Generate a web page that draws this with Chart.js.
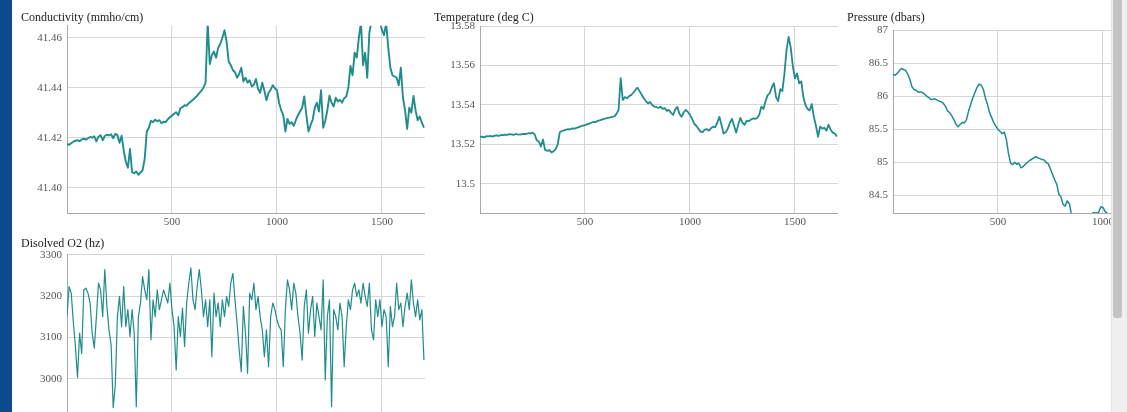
<!DOCTYPE html>
<html>
<head>
<meta charset="utf-8">
<script src="https://cdn.jsdelivr.net/npm/chart.js@4.4.1/dist/chart.umd.min.js"></script>
<style>
  html, body { margin: 0; padding: 0; overflow: hidden; background: #fff; }
  #pagina { position: absolute; left: 0; top: 0; width: 1111px; height: 412px; overflow: hidden; background: #fff; }
  #franja { position: absolute; left: 0; top: 0; width: 12px; height: 412px; background: #0b4a8c; }
  #pagina canvas { position: absolute; }
  #scroll { position: absolute; left: 1111px; top: 0; width: 16px; height: 412px; background: #f0f0f0; border-left: 1px solid #e2e2e2; box-sizing: border-box; }
  #thumb { position: absolute; left: 1px; top: 0; width: 9px; height: 318px; background: #c4c4c4; border-radius: 0 0 3px 3px; }
</style>
</head>
<body>
<div id="pagina">
  <div id="franja"></div>
  <canvas id="conductividad" width="404" height="230" style="left:21px;top:0px"></canvas>
  <canvas id="temperatura" width="404" height="230" style="left:434px;top:0px"></canvas>
  <canvas id="presion" width="404" height="230" style="left:847px;top:0px"></canvas>
  <canvas id="oxigeno" width="404" height="230" style="left:21px;top:226px"></canvas>
</div>
<div id="scroll"><div id="thumb"></div></div>

<script type="text/javascript">

    // numero de muestra (eje x)
    var muestras = [0,10,20,30,40,50,60,70,80,90,100,110,120,130,140,150,160,170,180,190,
        200,210,220,230,240,250,260,270,280,290,300,310,320,330,340,350,360,370,380,390,
        400,410,420,430,440,450,460,470,480,490,500,510,520,530,540,550,560,570,580,590,
        600,610,620,630,640,650,660,670,680,690,700,710,720,730,740,750,760,770,780,790,
        800,810,820,830,840,850,860,870,880,890,900,910,920,930,940,950,960,970,980,990,
        1000,1010,1020,1030,1040,1050,1060,1070,1080,1090,1100,1110,1120,1130,1140,1150,1160,1170,1180,1190,
        1200,1210,1220,1230,1240,1250,1260,1270,1280,1290,1300,1310,1320,1330,1340,1350,1360,1370,1380,1390,
        1400,1410,1420,1430,1440,1450,1460,1470,1480,1490,1500,1510,1520,1530,1540,1550,1560,1570,1580,1590,
        1600,1610,1620,1630,1640,1650,1660,1670,1680,1690,1700]

    var conductividad = [41.4175,41.4172,41.4178,41.4184,41.4188,41.4190,41.4186,41.4193,41.4196,41.4192,
        41.4198,41.4203,41.4200,41.4206,41.4185,41.4204,41.4210,41.4190,41.4207,41.4212,
        41.4209,41.4214,41.4198,41.4215,41.4211,41.4180,41.4208,41.4150,41.4105,41.4080,
        41.4155,41.4062,41.4058,41.4065,41.4052,41.4061,41.4070,41.4115,41.4225,41.4240,
        41.4268,41.4262,41.4272,41.4266,41.4270,41.4258,41.4264,41.4262,41.4274,41.4282,
        41.4288,41.4296,41.4302,41.4290,41.4318,41.4322,41.4330,41.4328,41.4338,41.4345,
        41.4352,41.4360,41.4368,41.4378,41.4388,41.4400,41.4420,41.4660,41.4495,41.4530,
        41.4545,41.4520,41.4560,41.4575,41.4600,41.4630,41.4585,41.4505,41.4490,41.4470,
        41.4462,41.4440,41.4455,41.4480,41.4425,41.4440,41.4420,41.4430,41.4405,41.4412,
        41.4435,41.4395,41.4380,41.4420,41.4388,41.4350,41.4380,41.4392,41.4410,41.4398,
        41.4390,41.4340,41.4310,41.4290,41.4225,41.4275,41.4255,41.4262,41.4248,41.4270,
        41.4290,41.4305,41.4320,41.4365,41.4290,41.4225,41.4250,41.4272,41.4320,41.4340,
        41.4305,41.4390,41.4240,41.4268,41.4310,41.4368,41.4340,41.4325,41.4360,41.4345,
        41.4352,41.4340,41.4358,41.4365,41.4400,41.4487,41.4450,41.4540,41.4520,41.4600,
        41.4660,41.4490,41.4540,41.4440,41.4620,41.4665,41.4680,41.4690,41.4685,41.4670,
        41.4630,41.4610,41.4660,41.4560,41.4480,41.4450,41.4445,41.4440,41.4410,41.4480,
        41.4360,41.4310,41.4235,41.4320,41.4300,41.4367,41.4310,41.4270,41.4285,41.4260,
        41.4240]

    var temperatura = [13.5238,13.5240,13.5236,13.5242,13.5241,13.5243,13.5240,13.5245,13.5246,13.5243,
        13.5248,13.5247,13.5250,13.5249,13.5252,13.5251,13.5249,13.5253,13.5251,13.5250,
        13.5252,13.5254,13.5253,13.5257,13.5255,13.5260,13.5252,13.5222,13.5215,13.5190,
        13.5225,13.5172,13.5168,13.5172,13.5160,13.5165,13.5175,13.5200,13.5262,13.5268,
        13.5272,13.5275,13.5278,13.5276,13.5282,13.5280,13.5284,13.5288,13.5292,13.5295,
        13.5298,13.5302,13.5306,13.5310,13.5314,13.5313,13.5320,13.5322,13.5326,13.5330,
        13.5332,13.5335,13.5337,13.5340,13.5342,13.5355,13.5375,13.5536,13.5425,13.5440,
        13.5434,13.5445,13.5450,13.5462,13.5476,13.5488,13.5470,13.5452,13.5434,13.5420,
        13.5408,13.5415,13.5400,13.5392,13.5390,13.5385,13.5392,13.5380,13.5384,13.5370,
        13.5375,13.5360,13.5350,13.5378,13.5390,13.5355,13.5340,13.5362,13.5375,13.5365,
        13.5350,13.5330,13.5305,13.5295,13.5280,13.5265,13.5262,13.5275,13.5278,13.5270,
        13.5282,13.5290,13.5288,13.5310,13.5340,13.5300,13.5255,13.5262,13.5280,13.5310,
        13.5330,13.5295,13.5260,13.5300,13.5335,13.5310,13.5300,13.5320,13.5318,13.5326,
        13.5332,13.5330,13.5334,13.5350,13.5392,13.5380,13.5420,13.5450,13.5460,13.5490,
        13.5510,13.5440,13.5420,13.5480,13.5470,13.5560,13.5680,13.5745,13.5690,13.5595,
        13.5535,13.5560,13.5510,13.5520,13.5440,13.5400,13.5380,13.5372,13.5405,13.5340,
        13.5295,13.5239,13.5290,13.5280,13.5285,13.5270,13.5300,13.5275,13.5260,13.5255,
        13.5240]

    // la presion sale del area visible por debajo entre 860 y 940
    var presion = [86.338,86.323,86.350,86.390,86.424,86.410,86.395,86.340,86.262,86.150,
        86.107,86.095,86.066,86.070,86.060,86.040,86.005,85.985,85.954,85.960,
        85.965,85.945,85.930,85.920,85.895,85.850,85.780,85.755,85.706,85.650,
        85.580,85.543,85.575,85.611,85.600,85.650,85.780,85.880,85.980,86.060,
        86.136,86.186,86.175,86.110,85.980,85.880,85.756,85.680,85.604,85.550,
        85.503,85.470,85.437,85.462,85.350,85.136,84.990,84.970,85.003,84.975,
        84.990,84.920,84.940,84.975,85.000,85.030,85.050,85.070,85.088,85.070,
        85.060,85.045,85.040,85.000,84.980,84.900,84.820,84.740,84.670,84.520,
        84.480,84.365,84.340,84.420,84.380,84.210,null,null,null,null,
        null,null,null,null,null,84.238,84.240,84.236,84.250,84.330,
        84.320,84.260,84.230,84.200]

    var oxigeno = [3150,3223,3207,3138,3078,3003,3110,3061,3215,3219,
        3207,3183,3110,3074,3150,3231,3215,3150,3264,3175,
        3118,3082,2930,2985,3150,3199,3126,3223,3126,3167,
        3102,3167,3110,2932,3150,3183,3247,3215,3191,3264,
        3094,3191,3150,3215,3167,3191,3215,3199,3183,3231,
        3167,3126,3021,3150,3102,3171,3078,3183,3231,3268,
        3191,3167,3223,3264,3215,3150,3191,3126,3191,3053,
        3207,3150,3183,3126,3191,3150,3199,3175,3231,3255,
        3191,3134,3070,3017,3175,3110,3013,3207,3191,3231,
        3167,3199,3150,3118,3053,3118,3029,3150,3183,3167,
        3142,3126,3118,3029,3167,3239,3215,3167,3231,3207,
        3150,3110,3045,3175,3215,3110,3167,3199,3102,3183,
        3150,3118,3239,2997,3150,3191,2932,3167,3150,3118,
        3183,3150,3029,3126,3191,3167,3215,3231,3199,3215,
        3183,3231,3199,3175,3231,3118,3094,3191,3150,3191,
        3126,3167,3150,3029,3175,3126,3150,3231,3167,3183,
        3126,3175,3207,3167,3239,3183,3150,3191,3142,3167,
        3045]

    // marcas de los ejes
    var ticksX = [500, 1000, 1500]
    var etiquetasX = ['500', '1000', '1500']
    var ticksCond = [41.40, 41.42, 41.44, 41.46]
    var etiquetasCond = ['41.40', '41.42', '41.44', '41.46']
    var ticksTemp = [13.50, 13.52, 13.54, 13.56, 13.58]
    var etiquetasTemp = ['13.5', '13.52', '13.54', '13.56', '13.58']
    var ticksPres = [84.5, 85, 85.5, 86, 86.5, 87]
    var etiquetasPres = ['84.5', '85', '85.5', '86', '86.5', '87']
    var ticksOxi = [2900, 3000, 3100, 3200, 3300]
    var etiquetasOxi = ['2900', '3000', '3100', '3200', '3300']

    var fuente = "'Liberation Serif', 'Times New Roman', serif"
    var colorLinea = '#218c8c'
    Chart.defaults.font.family = fuente

    function crearGrafica(id, titulo, valores, yMin, yMax, yTicks, yEtiquetas, separacion, grosor) {
        var context = document.getElementById(id).getContext('2d')
        return new Chart(context, {
            type: 'line',
            data: {
                labels: muestras,
                datasets: [{
                    data: valores,
                    borderColor: colorLinea,
                    borderWidth: grosor,
                    borderJoinStyle: 'round',
                    pointRadius: 0,
                    tension: 0,
                    fill: false,
                    spanGaps: false,
                    clip: 0
                }]
            },
            options: {
                responsive: false,
                animation: false,
                devicePixelRatio: 1,
                layout: { padding: 0 },
                plugins: {
                    legend: { display: false },
                    tooltip: { enabled: false },
                    title: {
                        display: true,
                        text: titulo,
                        align: 'start',
                        color: '#222',
                        font: { size: 12, weight: 'normal' },
                        padding: { top: 11, bottom: separacion }
                    }
                },
                scales: {
                    x: {
                        type: 'linear',
                        min: 0,
                        max: 1705,
                        bounds: 'data',
                        afterBuildTicks: function (s) { s.ticks = ticksX.map(v => ({ value: v })) },
                        afterFit: function (s) { s.height = 17 },
                        ticks: {
                            callback: (v, i) => etiquetasX[i],
                            padding: 3,
                            color: '#555',
                            font: { size: 11 },
                            maxRotation: 0,
                            autoSkip: false
                        },
                        grid: { color: '#d6d6d6', drawTicks: false },
                        border: { color: '#a8a8a8' }
                    },
                    y: {
                        type: 'linear',
                        min: yMin,
                        max: yMax,
                        bounds: 'data',
                        afterBuildTicks: function (s) { s.ticks = yTicks.map(v => ({ value: v })) },
                        afterFit: function (s) { s.width = 46 },
                        ticks: {
                            callback: (v, i) => yEtiquetas[i],
                            padding: 5,
                            color: '#555',
                            font: { size: 11 },
                            autoSkip: false
                        },
                        grid: { color: '#d6d6d6', drawTicks: false },
                        border: { color: '#a8a8a8' }
                    }
                }
            }
        })
    }

    crearGrafica('conductividad', 'Conductivity (mmho/cm)', conductividad, 41.3899, 41.4648, ticksCond, etiquetasCond, 0.3, 1.9)
    crearGrafica('temperatura', 'Temperature (deg C)', temperatura, 13.4853, 13.58, ticksTemp, etiquetasTemp, 0.6, 1.8)
    crearGrafica('presion', 'Pressure (dbars)', presion, 84.236, 87, ticksPres, etiquetasPres, 5.1, 1.5)
    crearGrafica('oxigeno', 'Disolved O2 (hz)', oxigeno, 2854, 3300, ticksOxi, etiquetasOxi, 3.3, 1.2)

</script>
</body>
</html>
